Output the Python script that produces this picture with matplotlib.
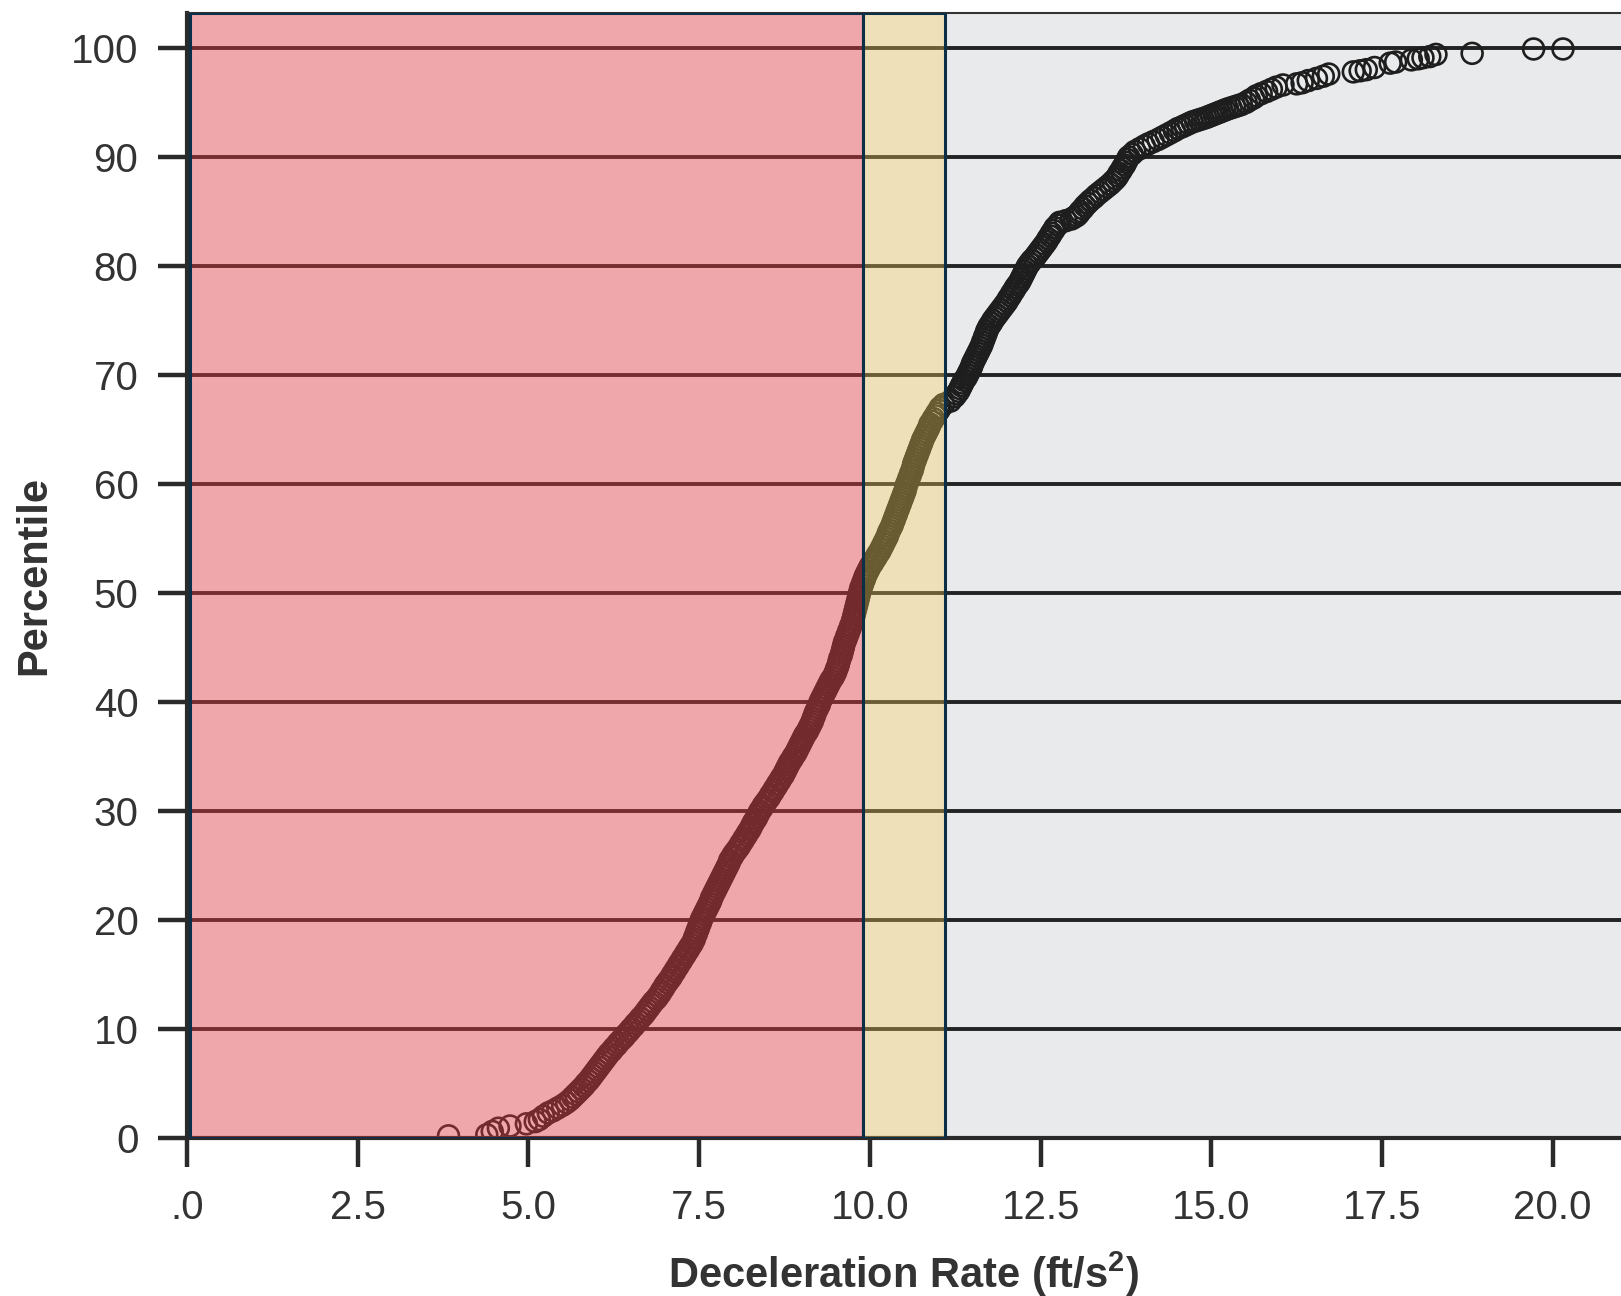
import matplotlib

matplotlib.use("Agg")
import matplotlib.pyplot as plt
import numpy as np

plt.rcParams["font.family"] = ["Liberation Sans", "DejaVu Sans"]
plt.rcParams["mathtext.fontset"] = "custom"
plt.rcParams["mathtext.rm"] = "Liberation Sans"
plt.rcParams["mathtext.bf"] = "Liberation Sans:bold"

# sorted deceleration rates (ft/s^2) and their percentile rank
decel_rate = [
    3.83, 4.39, 4.47, 4.56, 4.73, 4.97, 5.10, 5.16, 5.22, 5.29,
    5.36, 5.50, 5.61, 5.69, 5.77, 5.84, 5.91, 5.97, 6.03, 6.09,
    6.15, 6.22, 6.29, 6.36, 6.43, 6.50, 6.57, 6.64, 6.71, 6.77,
    6.83, 6.90, 6.95, 7.00, 7.06, 7.11, 7.16, 7.21, 7.26, 7.31,
    7.36, 7.41, 7.44, 7.47, 7.50, 7.53, 7.57, 7.61, 7.65, 7.68,
    7.72, 7.76, 7.80, 7.84, 7.88, 7.92, 7.95, 8.00, 8.06, 8.11,
    8.16, 8.21, 8.26, 8.30, 8.35, 8.39, 8.44, 8.50, 8.55, 8.60,
    8.65, 8.70, 8.75, 8.79, 8.83, 8.88, 8.93, 8.97, 9.01, 9.05,
    9.10, 9.14, 9.17, 9.20, 9.24, 9.27, 9.31, 9.35, 9.39, 9.43,
    9.48, 9.51, 9.54, 9.56, 9.59, 9.61, 9.63, 9.66, 9.69, 9.72,
    9.75, 9.77, 9.79, 9.81, 9.83, 9.85, 9.87, 9.90, 9.93, 9.97,
    10.01, 10.06, 10.11, 10.16, 10.20, 10.24, 10.27, 10.31, 10.34, 10.37,
    10.40, 10.43, 10.46, 10.49, 10.52, 10.54, 10.57, 10.60, 10.63, 10.65,
    10.68, 10.71, 10.74, 10.77, 10.81, 10.85, 10.88, 10.93, 10.98, 11.03,
    11.08, 11.18, 11.24, 11.30, 11.34, 11.38, 11.43, 11.47, 11.50, 11.54,
    11.58, 11.62, 11.65, 11.68, 11.71, 11.75, 11.80, 11.86, 11.92, 11.98,
    12.03, 12.08, 12.13, 12.19, 12.23, 12.27, 12.31, 12.37, 12.44, 12.50,
    12.56, 12.61, 12.66, 12.71, 12.78, 12.95, 13.03, 13.08, 13.15, 13.23,
    13.32, 13.42, 13.52, 13.60, 13.65, 13.70, 13.75, 13.79, 13.88, 14.02,
    14.15, 14.28, 14.40, 14.51, 14.62, 14.72, 14.82, 14.92, 15.00, 15.08,
    15.16, 15.24, 15.34, 15.44, 15.51, 15.56, 15.62, 15.66, 15.73, 15.81,
    15.88, 15.95, 16.05, 16.25, 16.33, 16.42, 16.54, 16.64, 16.72, 17.08,
    17.18, 17.27, 17.39, 17.62, 17.70, 17.93, 18.03, 18.10, 18.20, 18.29,
    18.82, 19.72, 20.15,
]
percentile = [
    0.2, 0.3, 0.6, 0.9, 1.1, 1.3, 1.5, 1.7, 2.0, 2.3,
    2.5, 3.0, 3.5, 4.0, 4.5, 5.0, 5.5, 6.0, 6.5, 7.0,
    7.5, 8.0, 8.5, 9.0, 9.5, 10.0, 10.5, 11.0, 11.5, 12.0,
    12.5, 13.0, 13.5, 14.0, 14.5, 15.0, 15.5, 16.0, 16.5, 17.0,
    17.5, 18.0, 18.5, 19.0, 19.5, 20.0, 20.5, 21.0, 21.5, 22.0,
    22.5, 23.0, 23.5, 24.0, 24.5, 25.0, 25.5, 26.0, 26.5, 27.0,
    27.5, 28.0, 28.5, 29.0, 29.5, 30.0, 30.5, 31.0, 31.5, 32.0,
    32.5, 33.0, 33.5, 34.0, 34.5, 35.0, 35.5, 36.0, 36.5, 37.0,
    37.5, 38.0, 38.5, 39.0, 39.5, 40.0, 40.5, 41.0, 41.5, 42.0,
    42.5, 43.0, 43.5, 44.0, 44.5, 45.0, 45.5, 46.0, 46.5, 47.0,
    47.5, 48.0, 48.5, 49.0, 49.5, 50.0, 50.5, 51.0, 51.5, 52.0,
    52.5, 53.0, 53.5, 54.0, 54.5, 55.0, 55.5, 56.0, 56.5, 57.0,
    57.5, 58.0, 58.5, 59.0, 59.5, 60.0, 60.5, 61.0, 61.5, 62.0,
    62.5, 63.0, 63.5, 64.0, 64.5, 65.0, 65.5, 66.0, 66.5, 67.0,
    67.3, 67.6, 68.0, 68.5, 69.0, 69.5, 70.0, 70.5, 71.0, 71.5,
    72.0, 72.5, 73.0, 73.5, 74.0, 74.5, 75.0, 75.5, 76.0, 76.5,
    77.0, 77.5, 78.0, 78.5, 79.0, 79.5, 80.0, 80.5, 81.0, 81.5,
    82.0, 82.5, 83.0, 83.5, 84.0, 84.3, 84.6, 85.0, 85.5, 86.0,
    86.5, 87.0, 87.5, 88.0, 88.5, 89.0, 89.5, 90.0, 90.5, 91.0,
    91.4, 91.8, 92.2, 92.6, 92.9, 93.2, 93.4, 93.6, 93.8, 94.0,
    94.2, 94.4, 94.6, 94.8, 95.0, 95.2, 95.4, 95.6, 95.8, 96.0,
    96.2, 96.4, 96.6, 96.7, 96.8, 97.0, 97.2, 97.4, 97.6, 97.8,
    97.9, 98.0, 98.2, 98.6, 98.7, 98.9, 99.0, 99.1, 99.2, 99.4,
    99.5, 99.9, 99.9,
]

# the dense middle of the curve holds many more records; these are read at the
# positions between the ones above
decel_rate_dense = [
    5.43, 5.56, 5.65, 5.73, 5.81, 5.88, 5.94, 6.00, 6.06, 6.12,
    6.18, 6.25, 6.32, 6.40, 6.47, 6.54, 6.61, 6.68, 6.74, 6.80,
    6.87, 6.93, 6.98, 7.03, 7.09, 7.14, 7.19, 7.24, 7.29, 7.34,
    7.39, 7.43, 7.46, 7.49, 7.52, 7.55, 7.59, 7.63, 7.67, 7.70,
    7.74, 7.78, 7.82, 7.86, 7.90, 7.94, 7.98, 8.03, 8.09, 8.14,
    8.19, 8.24, 8.28, 8.33, 8.37, 8.42, 8.47, 8.53, 8.58, 8.63,
    8.68, 8.73, 8.77, 8.81, 8.86, 8.91, 8.95, 8.99, 9.03, 9.08,
    9.12, 9.16, 9.19, 9.22, 9.26, 9.29, 9.33, 9.37, 9.41, 9.46,
    9.50, 9.53, 9.55, 9.58, 9.60, 9.62, 9.65, 9.68, 9.71, 9.74,
    9.76, 9.78, 9.80, 9.82, 9.84, 9.86, 9.89, 9.92, 9.95, 9.99,
    10.04, 10.09, 10.14, 10.18, 10.22, 10.26, 10.29, 10.33, 10.36, 10.39,
    10.42, 10.45, 10.48, 10.51, 10.53, 10.56, 10.59, 10.62, 10.64, 10.67,
    10.70, 10.73, 10.76, 10.79, 10.83, 10.87, 10.91, 10.96, 11.01,
    11.27, 11.32, 11.36, 11.41, 11.45, 11.49, 11.52, 11.56, 11.60, 11.64,
    11.67, 11.70, 11.73, 11.78, 11.83, 11.89, 11.95, 12.01, 12.06, 12.11,
    12.16, 12.21, 12.25, 12.29, 12.34, 12.41, 12.47, 12.53, 12.59, 12.64,
    12.69, 12.75,
    12.87, 12.99, 13.06, 13.12, 13.19, 13.28, 13.37, 13.47, 13.56, 13.63,
    13.68, 13.73, 13.77, 13.84, 13.95,
    14.08, 14.22, 14.34, 14.46, 14.57, 14.67, 14.77, 14.87, 14.96, 15.04,
    15.12, 15.20, 15.29, 15.39,
]
percentile_dense = [
    2.75, 3.25, 3.75, 4.25, 4.75, 5.25, 5.75, 6.25, 6.75, 7.25,
    7.75, 8.25, 8.75, 9.25, 9.75, 10.25, 10.75, 11.25, 11.75, 12.25,
    12.75, 13.25, 13.75, 14.25, 14.75, 15.25, 15.75, 16.25, 16.75, 17.25,
    17.75, 18.25, 18.75, 19.25, 19.75, 20.25, 20.75, 21.25, 21.75, 22.25,
    22.75, 23.25, 23.75, 24.25, 24.75, 25.25, 25.75, 26.25, 26.75, 27.25,
    27.75, 28.25, 28.75, 29.25, 29.75, 30.25, 30.75, 31.25, 31.75, 32.25,
    32.75, 33.25, 33.75, 34.25, 34.75, 35.25, 35.75, 36.25, 36.75, 37.25,
    37.75, 38.25, 38.75, 39.25, 39.75, 40.25, 40.75, 41.25, 41.75, 42.25,
    42.75, 43.25, 43.75, 44.25, 44.75, 45.25, 45.75, 46.25, 46.75, 47.25,
    47.75, 48.25, 48.75, 49.25, 49.75, 50.25, 50.75, 51.25, 51.75, 52.25,
    52.75, 53.25, 53.75, 54.25, 54.75, 55.25, 55.75, 56.25, 56.75, 57.25,
    57.75, 58.25, 58.75, 59.25, 59.75, 60.25, 60.75, 61.25, 61.75, 62.25,
    62.75, 63.25, 63.75, 64.25, 64.75, 65.25, 65.75, 66.25, 66.75,
    68.25, 68.75, 69.25, 69.75, 70.25, 70.75, 71.25, 71.75, 72.25, 72.75,
    73.25, 73.75, 74.25, 74.75, 75.25, 75.75, 76.25, 76.75, 77.25, 77.75,
    78.25, 78.75, 79.25, 79.75, 80.25, 80.75, 81.25, 81.75, 82.25, 82.75,
    83.25, 83.75,
    84.15, 84.45, 84.8, 85.25, 85.75, 86.25, 86.75, 87.25, 87.75, 88.25,
    88.75, 89.25, 89.75, 90.25, 90.75,
    91.2, 91.6, 92.0, 92.4, 92.75, 93.05, 93.3, 93.5, 93.7, 93.9,
    94.1, 94.3, 94.5, 94.7,
]

# shaded deceleration bands (ft/s^2)
red_band = (0.05, 9.9)
yellow_band = (9.9, 11.1)

x_ticks = [0, 2.5, 5.0, 7.5, 10.0, 12.5, 15.0, 17.5, 20.0]
x_tick_labels = [".0", "2.5", "5.0", "7.5", "10.0", "12.5", "15.0", "17.5", "20.0"]
y_ticks = list(range(0, 101, 10))

fig = plt.figure(figsize=(16.21, 12.96), dpi=100)
ax = fig.add_axes([187 / 1621, 158 / 1296, 1 - 187 / 1621, 1125 / 1296])
ax.set_facecolor("#e9eaec")

for yv in y_ticks[1:]:
    ax.axhline(yv, color="#232323", linewidth=2.8, zorder=1)

ax.scatter(decel_rate + decel_rate_dense, percentile + percentile_dense,
           s=225, facecolors="none", edgecolors="#1e1e1e", linewidths=1.9,
           zorder=2)

ax.axvspan(*red_band, facecolor=(249 / 255, 62 / 255, 70 / 255, 0.385),
           edgecolor="#0b2f47", linewidth=2.2, zorder=3)
ax.axvspan(*yellow_band, facecolor=(249 / 255, 208 / 255, 88 / 255, 0.34),
           edgecolor="#0b2f47", linewidth=2.2, zorder=3)

ax.set_xlim(0, 21)
ax.set_ylim(0, 103.2)
ax.set_xticks(x_ticks)
ax.set_xticklabels(x_tick_labels)
ax.set_yticks(y_ticks)

ax.tick_params(axis="both", length=21, width=3.2, color="#2a2a2a",
               labelsize=29, labelcolor="#333333")
ax.tick_params(axis="x", pad=16)
ax.tick_params(axis="y", pad=14)

for side in ["left", "bottom"]:
    ax.spines[side].set_linewidth(3)
    ax.spines[side].set_color("#2a2a2a")
ax.spines["top"].set_linewidth(1.5)
ax.spines["top"].set_color("#333333")
ax.spines["right"].set_visible(False)

ax.set_xlabel(r"Deceleration Rate (ft/s$^\mathbf{2}$)", fontsize=30,
              fontweight="bold", color="#333333", labelpad=16)
ax.set_ylabel("Percentile", fontsize=30, fontweight="bold",
              color="#333333", labelpad=12)

fig.savefig("out.png", dpi=100)
plt.close(fig)
